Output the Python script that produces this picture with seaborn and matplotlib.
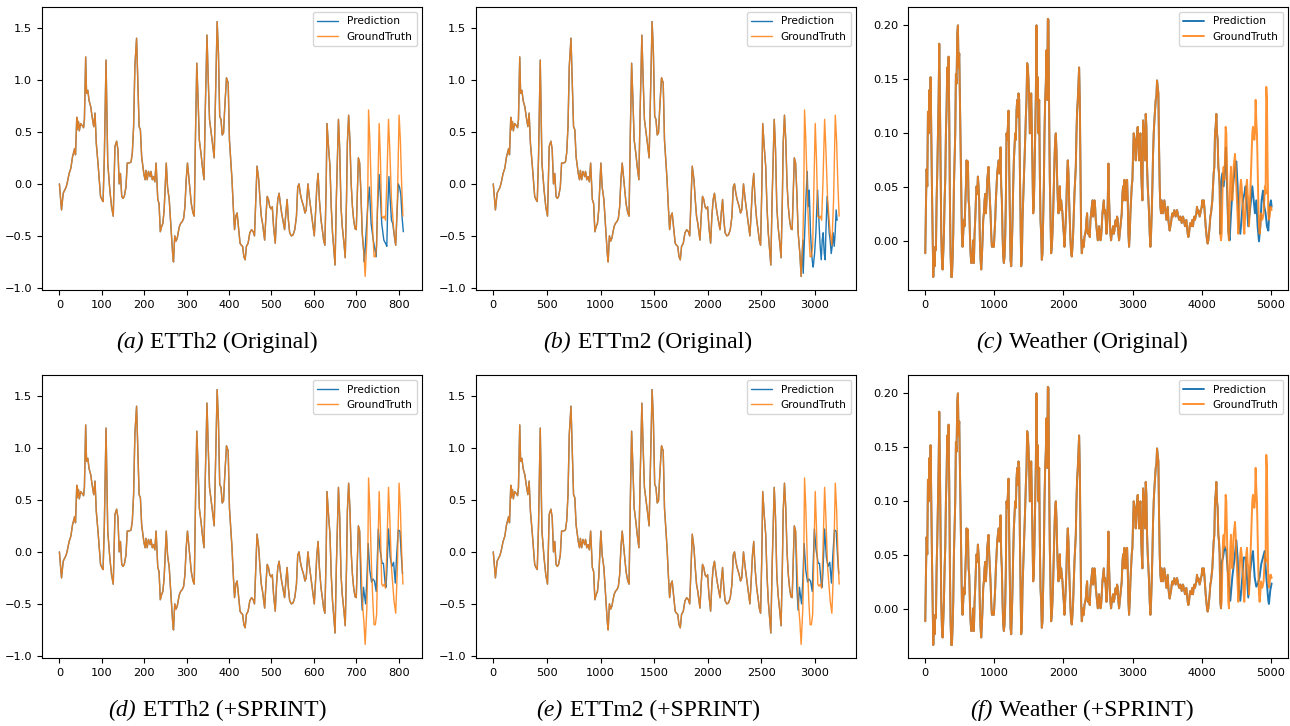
import numpy as np
import matplotlib
matplotlib.use("Agg")
import matplotlib.pyplot as plt
from matplotlib.offsetbox import TextArea, HPacker, AnnotationBbox
import seaborn as sns

etth2_x = [0, 5, 9, 16, 19, 23, 27, 31, 34, 36, 38, 39, 41, 42, 45, 47, 50, 54, 57, 59,
           62, 64, 67, 70, 74, 77, 81, 84, 87, 91, 94, 97, 100, 103, 106, 110, 114, 119, 123, 127,
           131, 135, 138, 141, 144, 147, 150, 153, 157, 160, 164, 169, 172, 175, 178, 182, 185, 188, 191, 194,
           199, 202, 204, 207, 210, 214, 216, 219, 222, 225, 228, 232, 235, 238, 241, 244, 247, 252, 255, 259,
           263, 267, 269, 272, 275, 278, 280, 283, 286, 290, 293, 296, 299, 302, 305, 308, 311, 315, 318, 321,
           324, 327, 330, 334, 337, 341, 344, 348, 351, 354, 358, 361, 365, 368, 372, 375, 378, 381, 384, 387,
           390, 394, 398, 401, 404, 407, 410, 413, 416, 419, 423, 426, 429, 432, 435, 438, 441, 445, 449, 453,
           457, 460, 463, 466, 470, 473, 476, 479, 484, 487, 490, 493, 496, 499, 502, 505, 509, 512, 515, 518,
           521, 524, 527, 531, 534, 537, 540, 543, 547, 551, 555, 559, 562, 565, 568, 571, 576, 579, 582, 586,
           590, 594, 598, 601, 604, 607, 610, 613, 617, 620, 623, 626, 629, 631, 635, 638, 641, 644, 647, 650,
           653, 656, 658, 661, 664, 667, 671, 674, 677, 679, 682, 685, 688, 691, 694, 697, 700, 703, 705, 708,
           711, 714, 718, 721, 725, 727, 729, 732, 736, 739, 742, 745, 748, 751, 754, 757, 760, 763, 766, 769,
           772, 776, 779, 783, 786, 789, 793, 797, 801, 804, 807, 810]
etth2_y = [0.00, -0.25, -0.09, -0.03, 0.02, 0.10, 0.15, 0.26, 0.31, 0.34, 0.28, 0.40, 0.64, 0.52, 0.60, 0.51, 0.58, 0.56, 0.54, 0.62,
           1.22, 0.87, 0.90, 0.80, 0.74, 0.65, 0.55, 0.68, 0.39, 0.20, 0.04, -0.12, -0.15, -0.17, 0.26, 1.19, 0.20, -0.06, -0.22, -0.31,
           0.36, 0.41, 0.33, 0.00, 0.10, -0.12, -0.14, -0.12, -0.03, 0.20, 0.20, 0.21, 0.30, 0.55, 1.13, 1.40, 0.97, 0.55, 0.52, 0.26,
           0.10, 0.04, 0.13, 0.04, 0.12, 0.07, 0.12, 0.04, 0.07, 0.02, 0.20, -0.15, -0.19, -0.46, -0.41, -0.38, -0.25, 0.20, -0.03, -0.15,
           -0.41, -0.67, -0.75, -0.50, -0.55, -0.52, -0.47, -0.41, -0.38, -0.36, -0.33, -0.22, 0.04, 0.20, 0.07, -0.06, -0.19, -0.28, -0.31, 0.49,
           1.16, 0.81, 0.42, 0.29, 0.17, 0.04, 0.71, 1.43, 1.00, 0.62, 0.49, 0.39, 0.25, 0.81, 1.56, 1.26, 0.65, 0.62, 0.47, 0.49,
           0.74, 1.02, 0.97, 0.42, 0.23, 0.04, -0.22, -0.44, -0.31, -0.28, -0.44, -0.57, -0.59, -0.60, -0.70, -0.73, -0.60, -0.57, -0.47, -0.44,
           -0.46, -0.50, -0.15, 0.17, 0.04, -0.15, -0.31, -0.38, -0.54, -0.31, -0.12, -0.15, -0.22, -0.24, -0.22, -0.41, -0.57, -0.31, -0.15, -0.09,
           -0.19, -0.28, -0.35, -0.44, -0.28, -0.15, -0.35, -0.47, -0.50, -0.49, -0.44, -0.31, -0.03, 0.00, -0.09, -0.15, -0.22, -0.28, -0.25, 0.00,
           -0.15, -0.28, -0.41, -0.50, -0.28, -0.03, 0.10, -0.15, -0.35, -0.44, -0.54, -0.59, -0.03, 0.58, 0.33, 0.17, -0.22, -0.47, -0.63, -0.78,
           -0.15, 0.33, 0.62, 0.33, -0.22, -0.41, -0.57, -0.71, -0.15, 0.39, 0.66, 0.42, 0.00, -0.22, -0.35, -0.43, -0.44, -0.03, 0.25, 0.20,
           -0.09, -0.47, -0.67, -0.89, -0.54, -0.15, 0.71, 0.42, -0.15, -0.47, -0.70, -0.70, -0.60, -0.03, 0.58, 0.23, -0.31, -0.33, -0.31, -0.35,
           0.00, 0.62, 0.33, -0.15, -0.31, -0.47, -0.59, -0.15, 0.66, 0.42, 0.00, -0.31]

ettm2_step = 3.98

# predictions, tails where they leave the ground truth
pred_a_x = [719, 727, 731, 735, 740, 744, 747, 750, 754, 757, 760, 765, 770, 772, 774, 777, 780, 783,
            786, 790, 793, 796, 799, 802, 805, 808, 811]
pred_a_y = [-0.75, -0.22, -0.03, -0.38, -0.54, -0.63, -0.70, -0.25, 0.09, -0.12, -0.38, -0.54, -0.58, -0.60,
            -0.25, 0.07, -0.15, -0.35, -0.38, -0.51, -0.59, -0.30, 0.00, -0.03, -0.10, -0.32, -0.46]

pred_d_x = [711, 714, 717, 722, 725, 728, 732, 736, 739, 743, 747, 752, 756, 761, 764, 768, 770, 772,
            776, 780, 784, 788, 792, 795, 799, 803, 806, 809]
pred_d_y = [-0.34, -0.56, -0.34, -0.50, -0.27, 0.08, -0.18, -0.29, -0.26, -0.28, -0.38, 0.22, 0.02, -0.11,
            -0.11, -0.30, -0.34, -0.20, 0.22, -0.05, -0.14, -0.10, -0.30, -0.05, 0.21, 0.20, -0.02, -0.21]

pred_b_x = [2889, 2914, 2926, 2936, 2945, 2957, 2967, 2976, 2982, 2995, 3007, 3016, 3023, 3032, 3038, 3047, 3057,
            3066, 3075, 3085, 3094, 3100, 3112, 3122, 3131, 3140, 3150, 3159, 3168, 3178, 3187, 3196, 3205]
pred_b_y = [-0.86, -0.15, 0.12, -0.22, -0.06, -0.47, -0.67, -0.76, -0.80, -0.67, -0.47, -0.22, -0.06, -0.28,
            -0.41, -0.60, -0.73, -0.54, -0.47, -0.67, -0.73, -0.47, -0.12, -0.31, -0.47, -0.54, -0.67, -0.60,
            -0.47, -0.60, -0.47, -0.25, -0.35]

# ---- Weather ground truth, one reading every weather_step samples ----
weather_step = 9.64
weather_y = [
    -0.011, 0.032, 0.067, 0.051, 0.120, 0.100, 0.140, 0.115, 0.152, 0.100,
    0.051, 0.007, -0.033, -0.011, -0.023, -0.005, -0.008, 0.038, 0.063, 0.097,
    0.131, 0.183, 0.131, 0.069, 0.007, -0.017, -0.026, -0.011, 0.007, 0.038,
    0.057, 0.100, 0.124, 0.161, 0.143, 0.171, 0.115, 0.038, -0.011, -0.033,
    -0.033, -0.017, 0.007, 0.051, 0.075, 0.100, 0.155, 0.146, 0.192, 0.200,
    0.161, 0.174, 0.131, 0.084, 0.038, 0.007, -0.005, 0.007, 0.020, 0.014,
    0.032, 0.051, 0.075, 0.063, 0.074, 0.038, 0.032, 0.007, -0.011, -0.020,
    -0.020, -0.011, 0.001, -0.020, 0.007, 0.020, 0.038, 0.051, 0.044, 0.060,
    0.051, 0.038, 0.001, -0.017, -0.026, -0.014, 0.001, 0.020, 0.026, 0.038,
    0.044, 0.026, 0.038, 0.057, 0.063, 0.069, 0.051, 0.038, 0.026, 0.007,
    -0.005, -0.005, -0.002, -0.005, 0.007, 0.020, 0.038, 0.051, 0.063, 0.069,
    0.075, 0.063, 0.063, 0.087, 0.051, 0.038, 0.007, -0.014, -0.020, -0.014,
    0.004, 0.038, 0.100, 0.094, 0.106, 0.121, 0.069, 0.026, -0.017, -0.023,
    -0.005, 0.020, 0.051, 0.075, 0.087, 0.100, 0.094, 0.121, 0.131, 0.115,
    0.137, 0.131, 0.069, 0.026, -0.023, -0.017, 0.020, 0.038, 0.057, 0.075,
    0.094, 0.115, 0.131, 0.165, 0.161, 0.149, 0.131, 0.100, 0.109, 0.137,
    0.106, 0.069, 0.026, 0.032, 0.063, 0.100, 0.134, 0.200, 0.131, 0.152,
    0.100, 0.131, 0.063, 0.020, 0.007, -0.017, -0.011, 0.020, 0.051, 0.100,
    0.131, 0.146, 0.177, 0.131, 0.206, 0.205, 0.115, 0.057, 0.020, -0.011,
    -0.005, 0.007, 0.026, 0.051, 0.075, 0.094, 0.100, 0.084, 0.057, 0.038,
    0.026, 0.038, 0.051, 0.029, 0.038, 0.032, 0.026, 0.014, 0.007, -0.005,
    0.007, 0.020, 0.038, 0.063, 0.075, 0.063, 0.038, 0.020, 0.001, -0.011,
    -0.014, -0.005, 0.007, 0.026, 0.044, 0.057, 0.069, 0.100, 0.121, 0.131,
    0.146, 0.161, 0.131, 0.069, 0.007, -0.011, -0.005, 0.001, -0.005, 0.004,
    0.007, 0.010, 0.020, 0.026, 0.007, 0.010, 0.007, 0.004, 0.020, 0.026,
    0.032, 0.038, 0.023, 0.026, 0.038, 0.032, 0.020, 0.014, 0.007, 0.001,
    0.007, 0.014, 0.007, 0.001, 0.004, 0.014, 0.026, 0.032, 0.038, 0.026,
    0.029, 0.020, 0.007, 0.014, 0.038, 0.072, 0.038, 0.020, 0.007, 0.001,
    0.007, 0.010, 0.014, 0.007, 0.010, 0.017, 0.020, 0.014, 0.023, 0.020,
    0.007, 0.001, 0.007, 0.014, 0.020, 0.026, 0.044, 0.051, 0.038, 0.057,
    0.044, 0.038, 0.051, 0.057, 0.038, 0.007, -0.005, 0.007, 0.026, 0.038,
    0.051, 0.057, 0.081, 0.100, 0.094, 0.087, 0.075, 0.094, 0.100, 0.106,
    0.087, 0.075, 0.094, 0.100, 0.069, 0.051, 0.038, 0.112, 0.100, 0.087,
    0.075, 0.118, 0.106, 0.069, 0.051, 0.038, 0.026, 0.007, -0.005, 0.007,
    0.026, 0.051, 0.081, 0.100, 0.112, 0.121, 0.131, 0.134, 0.149, 0.143,
    0.137, 0.087, 0.051, 0.032, 0.026, 0.038, 0.032, 0.026, 0.032, 0.038,
    0.032, 0.026, 0.020, 0.026, 0.032, 0.020, 0.014, 0.010, 0.014, 0.017,
    0.023, 0.026, 0.023, 0.026, 0.029, 0.026, 0.023, 0.026, 0.029, 0.026,
    0.023, 0.020, 0.020, 0.023, 0.020, 0.017, 0.020, 0.023, 0.020, 0.017,
    0.014, 0.017, 0.020, 0.014, 0.007, 0.004, 0.007, 0.014, 0.017, 0.014,
    0.017, 0.020, 0.014, 0.020, 0.023, 0.020, 0.023, 0.026, 0.032, 0.026,
    0.029, 0.026, 0.023, 0.026, 0.029, 0.032, 0.038, 0.032, 0.038, 0.032,
    0.023, 0.014, 0.007, 0.001, -0.002, 0.001, 0.007, 0.014, 0.023, 0.026,
    0.032, 0.038, 0.051, 0.063, 0.069, 0.100, 0.106, 0.118, 0.100, 0.094,
    0.069, 0.063, 0.051, 0.007, 0.001, 0.007, 0.038, 0.063, 0.069, 0.057,
    0.075, 0.106, 0.100, 0.069, 0.038, 0.007, 0.001, 0.032, 0.057, 0.069,
    0.051, 0.038, 0.051, 0.069, 0.075, 0.081, 0.069, 0.051, 0.038, 0.023,
    0.007, 0.014, 0.038, 0.051, 0.057, 0.051, 0.038, 0.032, 0.014, 0.007,
    0.020, 0.038, 0.051, 0.057, 0.044, 0.038, 0.014, 0.026, 0.044, 0.063,
    0.081, 0.100, 0.106, 0.100, 0.094, 0.100, 0.131, 0.112, 0.100, 0.069,
    0.038, 0.014, 0.007, 0.014, 0.026, 0.023, 0.020, 0.023, 0.026, 0.038,
    0.051, 0.044, 0.143, 0.131, 0.069, 0.026, 0.020, 0.023, 0.032, 0.032,
    0.029]

pred_c_x = [4280, 4299, 4319, 4338, 4352, 4367, 4386, 4405, 4425, 4444, 4463, 4483, 4502, 4521, 4540, 4560,
            4579, 4598, 4618, 4637, 4656, 4675, 4695, 4714, 4733, 4753, 4772, 4791, 4810, 4830, 4849, 4868,
            4888, 4907, 4926, 4945, 4965, 4984, 5003, 5013]
pred_c_y = [0.051, 0.063, 0.051, 0.069, 0.087, 0.051, 0.010, 0.001, 0.026, 0.044, 0.057, 0.069, 0.074, 0.051,
            0.014, 0.007, 0.023, 0.038, 0.044, 0.051, 0.032, 0.014, 0.026, 0.038, 0.051, 0.038, 0.026, 0.038,
            0.014, 0.000, 0.014, 0.038, 0.047, 0.032, 0.026, 0.014, 0.010, 0.032, 0.038, 0.032]

pred_f_x = [4285, 4309, 4333, 4357, 4377, 4396, 4415, 4444, 4478, 4502, 4521, 4540, 4560, 4589, 4608, 4637,
            4656, 4675, 4695, 4724, 4743, 4767, 4791, 4815, 4839, 4863, 4888, 4912, 4936, 4965, 4974, 4994, 5013]
pred_f_y = [0.042, 0.048, 0.058, 0.054, 0.036, 0.024, 0.008, 0.030, 0.048, 0.064, 0.048, 0.018, 0.008, 0.030,
            0.048, 0.048, 0.030, 0.011, 0.030, 0.048, 0.054, 0.030, 0.021, 0.024, 0.030, 0.042, 0.048, 0.054,
            0.030, 0.008, 0.005, 0.018, 0.024]

captions = ["(a)", "(b)", "(c)", "(d)", "(e)", "(f)"]
titles = ["ETTh2 (Original)", "ETTm2 (Original)", "Weather (Original)",
          "ETTh2 (+SPRINT)", "ETTm2 (+SPRINT)", "Weather (+SPRINT)"]


def with_tail(gx, gy, tx, ty):
    gx = np.asarray(gx, float)
    gy = np.asarray(gy, float)
    keep = gx < tx[0]
    return np.concatenate([gx[keep], tx]), np.concatenate([gy[keep], ty])


h_x = np.array(etth2_x, float)
h_y = np.array(etth2_y, float)
m_x = h_x * ettm2_step
w_y = np.array(weather_y, float)
w_x = np.arange(len(w_y)) * weather_step

panels = [
    (h_x, h_y, *with_tail(h_x, h_y, pred_a_x, pred_a_y), (-41, 855), (-1.02, 1.70)),
    (m_x, h_y, *with_tail(m_x, h_y, pred_b_x, pred_b_y), (-161, 3381), (-1.02, 1.70)),
    (w_x, w_y, *with_tail(w_x, w_y, pred_c_x, pred_c_y), (-250, 5250), (-0.045, 0.217)),
    (h_x, h_y, *with_tail(h_x, h_y, pred_d_x, pred_d_y), (-41, 855), (-1.02, 1.70)),
    (m_x, h_y, *with_tail(m_x, h_y, np.array(pred_d_x) * ettm2_step, pred_d_y), (-161, 3381), (-1.02, 1.70)),
    (w_x, w_y, *with_tail(w_x, w_y, pred_f_x, pred_f_y), (-250, 5250), (-0.045, 0.217)),
]

sns.set_style("ticks", {"axes.edgecolor": "black", "xtick.color": "black",
                        "ytick.color": "black", "text.color": "black"})
plt.rcParams["font.family"] = ["DejaVu Sans"]

W, H = 1290, 726
fig = plt.figure(figsize=(W / 100, H / 100), dpi=100)

lefts = [42, 476, 908]
tops = [7, 375]
cap_x = [217, 648, 1082]
cap_y = [342, 710]
serif = dict(fontsize=17, family="Liberation Serif", color="black")

for i, (gx, gy, px, py, xl, yl) in enumerate(panels):
    r, c = divmod(i, 3)
    ax = fig.add_axes([lefts[c] / W, 1 - (tops[r] + 283) / H, 380 / W, 283 / H])
    lw = 1.4 if c == 2 else 1.0
    sns.lineplot(x=px, y=py, ax=ax, color="#1f77b4", lw=lw, label="Prediction",
                 estimator=None, sort=False)
    sns.lineplot(x=gx, y=gy, ax=ax, color="#ff7f0e", lw=lw, alpha=0.85, label="GroundTruth",
                 estimator=None, sort=False)
    ax.set_xlim(xl)
    ax.set_ylim(yl)
    ax.set_xlabel("")
    ax.set_ylabel("")
    ax.tick_params(labelsize=8.2)
    ax.legend(loc="upper right", fontsize=7.6)

    # caption: italic panel letter followed by upright title
    parts = HPacker(children=[TextArea(captions[i], textprops=dict(serif, style="italic")),
                              TextArea(titles[i], textprops=serif)],
                    align="baseline", pad=0, sep=5)
    fig.add_artist(AnnotationBbox(parts, (cap_x[c] / W, 1 - cap_y[r] / H),
                                  xycoords="figure fraction", frameon=False,
                                  box_alignment=(0.5, 0.5)))

fig.savefig("out.png", dpi=100)
